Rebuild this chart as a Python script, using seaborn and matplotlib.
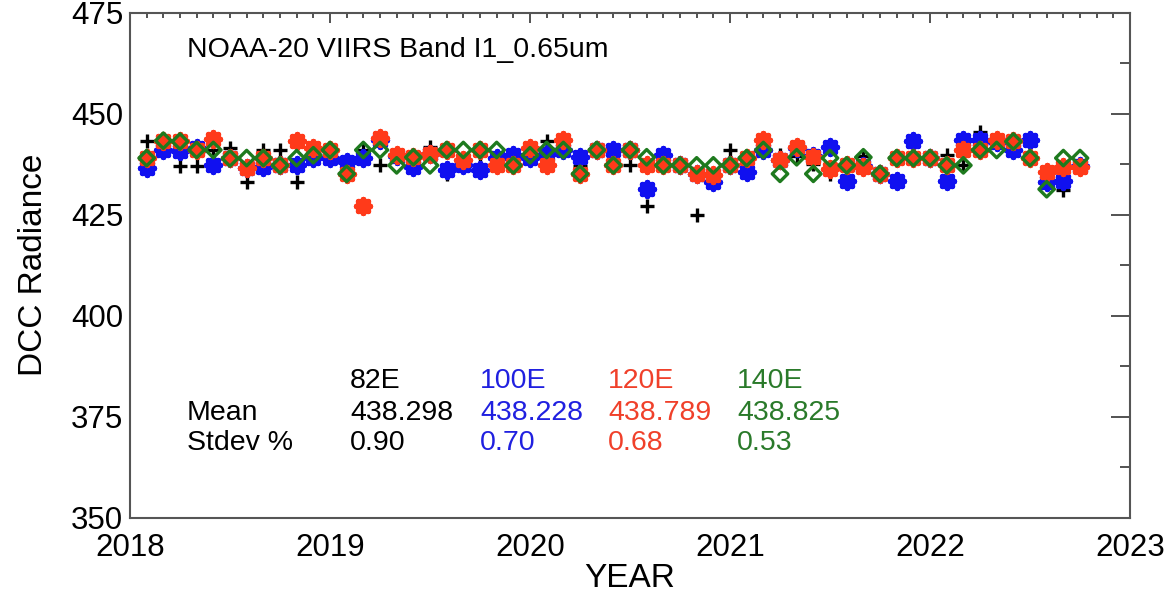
import numpy as np
import pandas as pd
import matplotlib
matplotlib.use("Agg")
import matplotlib.pyplot as plt
from matplotlib.ticker import MultipleLocator
import seaborn as sns

# Monthly DCC mean radiance, Jan 2018 - Sep 2022, for four longitude domains
n_months = 57
year = 2018 + np.arange(1, n_months + 1) / 12.0

rad_82e = [443.2, 443.0, 437.0, 437.0, 441.0, 441.4, 433.1, 441.0, 441.0, 433.1,
           439.5, 441.0, 435.0, 441.0, 437.2, 439.0, 439.0, 441.8, 435.1, 439.0,
           437.2, 439.0, 437.5, 441.0, 443.3, 441.0, 437.0, 441.0, 437.2, 437.2,
           427.1, 439.0, 437.2, 425.0, 435.0, 441.0, 439.0, 441.0, 439.7, 439.5,
           437.5, 435.1, 437.2, 439.5, 435.1, 439.0, 439.0, 439.0, 439.7, 437.2,
           445.4, 443.0, 443.0, 439.0, 433.0, 431.0, 437.0]

rad_100e = [436.6, 441.0, 440.8, 441.5, 437.2, 438.9, 436.5, 436.8, 437.2, 437.2,
            438.9, 438.9, 438.0, 439.0, 443.5, 439.5, 436.8, 440.0, 436.0, 437.2,
            436.0, 439.0, 439.7, 439.0, 440.0, 441.0, 439.2, 441.0, 441.0, 441.0,
            431.3, 439.7, 437.2, 435.0, 433.0, 437.2, 435.6, 441.0, 438.5, 441.5,
            439.5, 441.8, 433.4, 437.0, 435.1, 433.4, 443.2, 439.0, 433.4, 443.5,
            443.5, 443.0, 441.0, 443.5, 433.0, 433.4, 437.0]

rad_120e = [439.0, 443.3, 443.1, 441.0, 443.8, 438.9, 436.5, 439.0, 437.2, 443.3,
            441.6, 441.0, 435.1, 427.1, 443.9, 439.7, 439.2, 440.1, 441.0, 438.5,
            441.0, 437.2, 437.2, 441.6, 437.2, 443.5, 435.1, 441.0, 437.2, 441.0,
            437.2, 437.2, 437.2, 435.1, 434.7, 437.2, 439.0, 443.5, 438.5, 441.8,
            439.2, 436.4, 437.2, 436.8, 435.1, 439.0, 439.0, 439.0, 437.2, 441.0,
            441.0, 443.5, 443.1, 439.0, 435.6, 436.8, 436.8]

rad_140e = [439.0, 443.3, 443.1, 441.0, 441.0, 438.9, 439.0, 439.0, 437.2, 439.0,
            439.7, 441.0, 435.1, 441.0, 441.0, 437.2, 439.2, 437.2, 441.0, 441.0,
            441.0, 441.0, 437.2, 439.7, 441.0, 441.0, 435.1, 441.0, 437.2, 441.0,
            439.2, 437.2, 437.2, 437.2, 437.2, 437.2, 439.0, 441.0, 435.1, 439.2,
            435.1, 439.0, 437.2, 439.2, 435.1, 439.0, 439.0, 439.0, 437.2, 437.2,
            441.0, 441.0, 443.1, 439.0, 431.3, 439.0, 439.0]

domains = ["82E", "100E", "120E", "140E"]
mean_text = ["438.298", "438.228", "438.789", "438.825"]
stdev_text = ["0.90", "0.70", "0.68", "0.53"]

mark_colors = ["black", "#1010f0", "#ff3a1a", "#1e7a1e"]
text_colors = ["black", "#2020e0", "#f0402a", "#2a7a2a"]

df = pd.DataFrame({
    "year": np.tile(year, 4),
    "radiance": np.concatenate([rad_82e, rad_100e, rad_120e, rad_140e]),
    "domain": np.repeat(domains, n_months),
})

sns.set_theme(style="white")
plt.rcParams["font.family"] = ["Liberation Sans", "DejaVu Sans"]
plt.rcParams["text.color"] = "black"
plt.rcParams["axes.labelcolor"] = "black"
plt.rcParams["xtick.color"] = "black"
plt.rcParams["ytick.color"] = "black"

fig = plt.figure(figsize=(11.71, 5.96), dpi=100)
ax = fig.add_axes([0.111, 0.131, 0.854, 0.848])

styles = {
    "82E": dict(marker="+", s=110, linewidths=2.4),
    "100E": dict(marker=(8, 2, 0), s=95, linewidths=4.2),
    "120E": dict(marker=(8, 2, 0), s=95, linewidths=4.2),
    "140E": dict(marker="D", s=62, linewidths=2.4, facecolor="none"),
}

for dom, col in zip(domains, mark_colors):
    sub = df[df["domain"] == dom]
    kw = dict(styles[dom])
    if dom == "140E":
        kw["edgecolor"] = col
    sns.scatterplot(data=sub, x="year", y="radiance", color=col, ax=ax,
                    legend=False, zorder=3, **kw)

ax.set_xlim(2018, 2023)
ax.set_ylim(350, 475)
ax.xaxis.set_major_locator(MultipleLocator(1))
ax.xaxis.set_minor_locator(MultipleLocator(1 / 12))
ax.yaxis.set_major_locator(MultipleLocator(25))
ax.yaxis.set_minor_locator(MultipleLocator(12.5))
ax.set_xticks(range(2018, 2024))
ax.set_xticklabels([str(y) for y in range(2018, 2024)])

ax.tick_params(axis="both", which="both", direction="in", top=True, right=True,
               color="#444444", width=1.3, labelcolor="black")
ax.tick_params(axis="x", which="major", length=7, labelsize=22.5, pad=11)
ax.tick_params(axis="x", which="minor", length=3.5)
ax.tick_params(axis="y", which="major", length=14, labelsize=22.5, pad=5)
ax.tick_params(axis="y", which="minor", length=7)
for sp in ax.spines.values():
    sp.set_color("#555555")
    sp.set_linewidth(1.5)

ax.set_xlabel("YEAR", fontsize=24, labelpad=0, color="black")
ax.set_ylabel("DCC Radiance", fontsize=24, labelpad=16, color="black")

ax.text(0.057, 0.925, "NOAA-20 VIIRS Band I1_0.65um", transform=ax.transAxes,
        fontsize=20.5, ha="left", va="center", color="black")

col_x = [0.220, 0.350, 0.478, 0.607]
row_y = [0.270, 0.208, 0.149]
ax.text(0.057, row_y[1], "Mean", transform=ax.transAxes, fontsize=20.5,
        ha="left", va="center", color="black")
ax.text(0.057, row_y[2], "Stdev %", transform=ax.transAxes, fontsize=20.5,
        ha="left", va="center", color="black")
for x, name, m, s, c in zip(col_x, domains, mean_text, stdev_text, text_colors):
    ax.text(x, row_y[0], name, transform=ax.transAxes, fontsize=20.5,
            ha="left", va="center", color=c)
    ax.text(x, row_y[1], m, transform=ax.transAxes, fontsize=20.5,
            ha="left", va="center", color=c)
    ax.text(x, row_y[2], s, transform=ax.transAxes, fontsize=20.5,
            ha="left", va="center", color=c)

fig.savefig("out.png", dpi=100)
